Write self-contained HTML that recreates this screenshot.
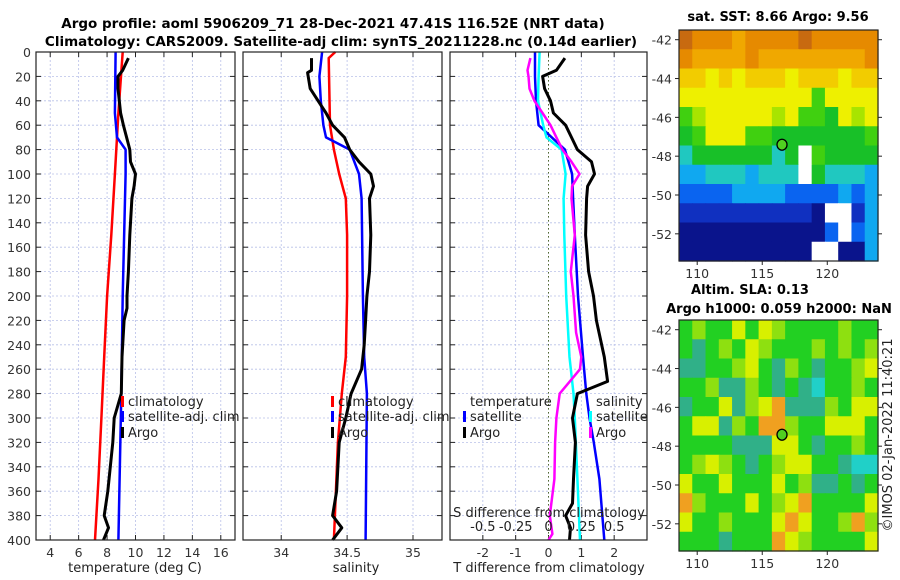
<!DOCTYPE html>
<html><head><meta charset="utf-8"><style>
body{margin:0;background:#fff;}
svg{display:block;font-family:"DejaVu Sans","Liberation Sans",sans-serif;}
</style></head><body>
<svg id="fig" width="900" height="580" viewBox="0 0 900 580" xmlns="http://www.w3.org/2000/svg">
<text x="333" y="28" text-anchor="middle" font-weight="bold" font-size="13.5" fill="#000">Argo profile: aoml 5906209_71 28-Dec-2021 47.41S 116.52E (NRT data)</text>
<text x="341" y="46" text-anchor="middle" font-weight="bold" font-size="13.5" fill="#000">Climatology: CARS2009. Satellite-adj clim: synTS_20211228.nc (0.14d earlier)</text>
<text x="778" y="21" text-anchor="middle" font-weight="bold" font-size="13" fill="#000">sat. SST: 8.66 Argo: 9.56</text>
<text x="750" y="294" text-anchor="middle" font-weight="bold" font-size="13" fill="#000">Altim. SLA: 0.13</text>
<text x="779" y="313" text-anchor="middle" font-weight="bold" font-size="13" fill="#000">Argo h1000: 0.059 h2000: NaN</text>
<text transform="translate(892,435) rotate(-90)" text-anchor="middle" font-size="13" fill="#222">©IMOS 02-Jan-2022 11:40:21</text>
<g id="plots"></g>
</svg>
<script>
// ---- depth axis ----
const depthTicks=[0,20,40,60,80,100,120,140,160,180,200,220,240,260,280,300,320,340,360,380,400];
// ---- temperature panel ----
const climDepth=[0,50,100,150,200,250,300,350,400];
const climT=[9.1,8.8,8.55,8.3,8.0,7.8,7.6,7.4,7.15];
const satDepth=[0,50,70,80,100,200,280,400];
const satT=[8.6,8.55,8.7,9.3,9.3,9.1,9.0,8.8];
const argoDepth=[5,15,20,30,50,60,80,90,100,110,120,150,180,200,210,220,250,280,300,320,360,380,390,400];
const argoT=[9.5,9.1,8.77,8.77,8.95,9.15,9.6,9.65,10.0,9.9,9.75,9.6,9.5,9.4,9.4,9.2,9.05,9.0,8.5,8.4,8.05,7.8,8.1,7.75];
// ---- salinity panel ----
const climSDepth=[0,5,60,80,100,120,150,200,250,280,320,400];
const climS=[34.41,34.36,34.37,34.4,34.44,34.49,34.5,34.5,34.49,34.46,34.43,34.40];
const satSDepth=[0,20,40,60,70,80,100,120,200,250,280,400];
const satS=[34.31,34.29,34.3,34.32,34.34,34.52,34.59,34.61,34.62,34.63,34.65,34.64];
const argoSDepth=[5,15,17,30,40,50,60,70,80,90,100,110,120,150,180,200,220,240,260,280,300,320,360,380,390,400];
const argoS=[34.23,34.23,34.2,34.22,34.28,34.34,34.39,34.48,34.52,34.59,34.68,34.7,34.67,34.68,34.67,34.65,34.64,34.63,34.61,34.53,34.49,34.44,34.42,34.39,34.46,34.39];
// ---- difference panel ----
const dTsatDepth=[0,20,40,60,80,100,120,150,200,250,280,300,320,350,400];
const dTsat=[-0.41,-0.41,-0.38,-0.3,0.5,0.72,0.75,0.8,0.9,1.05,1.15,1.25,1.38,1.55,1.7];
const dSsatDepth=[0,20,40,60,70,80,100,120,150,200,250,280,300,400];
const dSsat=[-0.068,-0.075,-0.08,-0.04,-0.015,0.1,0.13,0.115,0.12,0.135,0.16,0.19,0.2,0.24];
const dSargoDepth=[5,15,20,30,40,50,60,70,80,90,100,110,120,150,180,200,230,250,260,280,300,320,350,380,395,400];
const dSargo=[-0.138,-0.16,-0.152,-0.145,-0.107,-0.046,0.015,0.06,0.106,0.175,0.236,0.18,0.175,0.2,0.17,0.19,0.21,0.25,0.24,0.085,0.06,0.05,0.045,0.01,0.03,0.0];
const dTargoDepth=[5,15,20,30,40,50,60,70,80,90,100,110,120,150,180,200,220,250,270,280,300,320,350,370,380,390,400];
const dTargo=[0.5,0.24,-0.18,-0.12,0.06,0.15,0.52,0.7,0.88,1.31,1.4,1.19,1.16,1.13,1.22,1.37,1.46,1.7,1.8,0.88,0.73,0.82,0.76,0.73,0.52,0.67,0.64];
const tTicks=[4,6,8,10,12,14,16];
const sTicks=[34,34.5,35];
const dTicks=[-2,-1,0,1,2];
const dSTickLabels=["-0.5","-0.25","0","0.25","0.5"];
// ---- maps (cell codes) ----
const sstRows=["cbbbabbbbcbbbbb","baaaabaaaaaaaab","998989998999899","888888888868888","678888878665878","568886655555556","455555545w65555","334443444w54443","222233332222323","11111111110ww13","000000000002w23","0000000000ww003"];
const slaRows=["glggygylgggglgg","gtglgylggglglgl","ttgglygtlgtggly","gglttlgtgtcgglg","tggytlyotttlgyy","gyytlgoolggyyyg","ggggtttyygtgglg","glylgtglyyggtcc","yggygggyglttgtg","olgggyglyoggggy","ygglgggyoygglol","gggtgggoylggggy"];
const lonTicks=[110,115,120];
const latTicks=[-42,-44,-46,-48,-50,-52];
const argoLon=116.52, argoLat=-47.41;

const NS="http://www.w3.org/2000/svg";
const root=document.getElementById('plots');
function mk(tag,attrs,parent){const e=document.createElementNS(NS,tag);for(const k in attrs)e.setAttribute(k,attrs[k]);(parent||root).appendChild(e);return e;}
const Y0=52,Y1=540;
function yD(d){return Y0+d/400*(Y1-Y0);}
function panel(x0,x1,xmin,xmax,name){
  const sx=v=>x0+(v-xmin)/(xmax-xmin)*(x1-x0);
  const g=mk('g',{});
  
  
  return {sx,g,x0,x1};
}
function grid(p,xt,yticks){
  xt.forEach(v=>{const l=mk('line',{x1:p.sx(v),x2:p.sx(v),y1:Y0,y2:Y1,stroke:'#b8c0e8','stroke-width':0.8,'stroke-dasharray':'2,2'},p.g);
    });
  depthTicks.forEach(d=>{const l=mk('line',{x1:p.x0,x2:p.x1,y1:yD(d),y2:yD(d),stroke:'#b8c0e8','stroke-width':0.8,'stroke-dasharray':'2,2'},p.g);
    
    mk('line',{x1:p.x0,x2:p.x0+5,y1:yD(d),y2:yD(d),stroke:'#222'},p.g);
    mk('line',{x1:p.x1,x2:p.x1-5,y1:yD(d),y2:yD(d),stroke:'#222'},p.g);});
  xt.forEach(v=>{mk('line',{x1:p.sx(v),x2:p.sx(v),y1:Y1,y2:Y1-5,stroke:'#222'},p.g);mk('line',{x1:p.sx(v),x2:p.sx(v),y1:Y0,y2:Y0+5,stroke:'#222'},p.g);});
}
function frame(p){const r=mk('rect',{x:p.x0,y:Y0,width:p.x1-p.x0,height:Y1-Y0,fill:'none',stroke:'#222','stroke-width':1.2},p.g);
  }
function line(p,xs,ds,color,w,name,scale){
  const pts=xs.map((v,i)=>p.sx(v*(scale||1)).toFixed(1)+','+yD(ds[i]).toFixed(1)).join(' ');
  const l=mk('polyline',{points:pts,fill:'none',stroke:color,'stroke-width':w,'stroke-linejoin':'round'},p.g);
  
}
function xlabels(p,ticks,labels){ticks.forEach((v,i)=>{const t=mk('text',{x:p.sx(v),y:Y1+17,'text-anchor':'middle','font-size':12.5,fill:'#333'},p.g);t.textContent=labels?labels[i]:String(v);
  });}
function txt(p,x,y,s,name,anchor){const t=mk('text',{x:x,y:y,'font-size':13,fill:'#222','text-anchor':anchor||'start'},p.g);t.textContent=s;
  return t;}
function mark(p,x,y,color,name){const r=mk('rect',{x:x,y:y-10,width:3,height:11,fill:color},p.g);}

// Panel 1
const p1=panel(36,235,3,17,'temperature-panel');
grid(p1,tTicks);
line(p1,climT,climDepth,'#f00',2.5,'climatology-temperature-line');
line(p1,satT,satDepth,'#00f',2.5,'satellite-temperature-line');
line(p1,argoT,argoDepth,'#000',3,'argo-temperature-line');
frame(p1);xlabels(p1,tTicks);
depthTicks.forEach(d=>{const t=mk('text',{x:31,y:yD(d)+5,'text-anchor':'end','font-size':12.5,fill:'#333'},p1.g);t.textContent=d;
  });
txt(p1,135,572,'temperature (deg C)','x-axis-title-temperature','middle');
mark(p1,121,406,'#f00','legend-climatology-marker');txt(p1,128,406,'climatology','legend-climatology');
mark(p1,121,421,'#00f','legend-satellite-marker');txt(p1,128,421,'satellite-adj. clim','legend-satellite');
mark(p1,121,437,'#000','legend-argo-marker');txt(p1,128,437,'Argo','legend-argo');

// Panel 2
const p2=panel(243,442,33.71,35.22,'salinity-panel');
grid(p2,sTicks);
line(p2,climS,climSDepth,'#f00',2.5,'climatology-salinity-line');
line(p2,satS,satSDepth,'#00f',2.5,'satellite-salinity-line');
line(p2,argoS,argoSDepth,'#000',3,'argo-salinity-line');
frame(p2);xlabels(p2,sTicks);
txt(p2,356,572,'salinity','x-axis-title-salinity','middle');
mark(p2,331,406,'#f00','legend-climatology-marker');txt(p2,338,406,'climatology','legend-climatology');
mark(p2,331,421,'#00f','legend-satellite-marker');txt(p2,338,421,'satellite-adj. clim','legend-satellite');
mark(p2,331,437,'#000','legend-argo-marker');txt(p2,338,437,'Argo','legend-argo');

// Panel 3
const p3=panel(450,647,-3,3,'difference-panel');
grid(p3,dTicks);
const z=mk('line',{x1:p3.sx(0),x2:p3.sx(0),y1:Y0,y2:Y1,stroke:'#556b2f','stroke-width':1,'stroke-dasharray':'1.5,2.5'},p3.g);

line(p3,dTsat,dTsatDepth,'#00f',2.5,'satellite-t-diff-line');
line(p3,dSsat,dSsatDepth,'#0ff',2.5,'satellite-s-diff-line',4);
line(p3,dSargo,dSargoDepth,'#f0f',2.5,'argo-s-diff-line',4);
line(p3,dTargo,dTargoDepth,'#000',3,'argo-t-diff-line');
frame(p3);xlabels(p3,dTicks);
txt(p3,549,572,'T difference from climatology','x-axis-title-t-diff','middle');
txt(p3,549,517,'S difference from climatology','s-diff-axis-title','middle');
dTicks.forEach((v,i)=>txt(p3,p3.sx(v),531,dSTickLabels[i],'s-diff-tick-label','middle'));
txt(p3,470,406,'temperature','legend-temperature-header');
mark(p3,463,421,'#00f','legend-t-satellite-marker');txt(p3,470,421,'satellite','legend-t-satellite');
mark(p3,463,437,'#000','legend-t-argo-marker');txt(p3,470,437,'Argo','legend-t-argo');
txt(p3,596,406,'salinity','legend-salinity-header');
mark(p3,589,421,'#0ff','legend-s-satellite-marker');txt(p3,596,421,'satellite','legend-s-satellite');
mark(p3,589,437,'#f0f','legend-s-argo-marker');txt(p3,596,437,'Argo','legend-s-argo');

// Maps
const sstCols={'w':'#ffffff','0':'#0a148c','1':'#1030c0','2':'#0a64f0','3':'#10a8f0','4':'#20c8c0','5':'#18c028','6':'#40d010','7':'#a8e400','8':'#eef000','9':'#f2cc00','a':'#f0a800','b':'#e68a00','c':'#c86a10'};
const slaCols={'g':'#22d022','t':'#30b088','c':'#20d0c8','l':'#8ee010','y':'#d8f000','o':'#f0a020'};
function map(y0,rows,cols,name,rightTicks){
  const x0=679,x1=878,y1=y0+231,lonMin=108.6,lonMax=123.9,latMax=-41.5,latMin=-53.4;
  const sx=v=>x0+(v-lonMin)/(lonMax-lonMin)*(x1-x0), sy=v=>y0+(latMax-v)/(latMax-latMin)*(y1-y0);
  const g=mk('g',{});
  const nr=rows.length,nc=rows[0].length,cw=(x1-x0)/nc,ch=(y1-y0)/nr;
  rows.forEach((row,r)=>{[...row].forEach((c,k)=>{const e=mk('rect',{x:(x0+k*cw).toFixed(2),y:(y0+r*ch).toFixed(2),width:(cw+0.6).toFixed(2),height:(ch+0.6).toFixed(2),fill:cols[c]},g);
    });});
  const f=mk('rect',{x:x0,y:y0,width:x1-x0,height:y1-y0,fill:'none',stroke:'#222','stroke-width':1.2},g);
  
  const c=mk('ellipse',{cx:sx(argoLon),cy:sy(argoLat),rx:5,ry:5.5,fill:'#50d020',stroke:'#000','stroke-width':1.3},g);
  
  lonTicks.forEach(v=>{mk('line',{x1:sx(v),x2:sx(v),y1:y1,y2:y1+4,stroke:'#222'},g);
    const t=mk('text',{x:sx(v),y:y1+17,'text-anchor':'middle','font-size':12.5,fill:'#333'},g);t.textContent=v;
    });
  latTicks.forEach(v=>{mk('line',{x1:x0-4,x2:x0,y1:sy(v),y2:sy(v),stroke:'#222'},g);
    mk('line',{x1:x1,x2:x1+4,y1:sy(v),y2:sy(v),stroke:'#222'},g);
    const t=mk('text',{x:x0-7,y:sy(v)+5,'text-anchor':'end','font-size':12.5,fill:'#333'},g);t.textContent=v;
    });
}
map(30,sstRows,sstCols,'sst-map');
map(320,slaRows,slaCols,'sla-map');
</script>
</body></html>
